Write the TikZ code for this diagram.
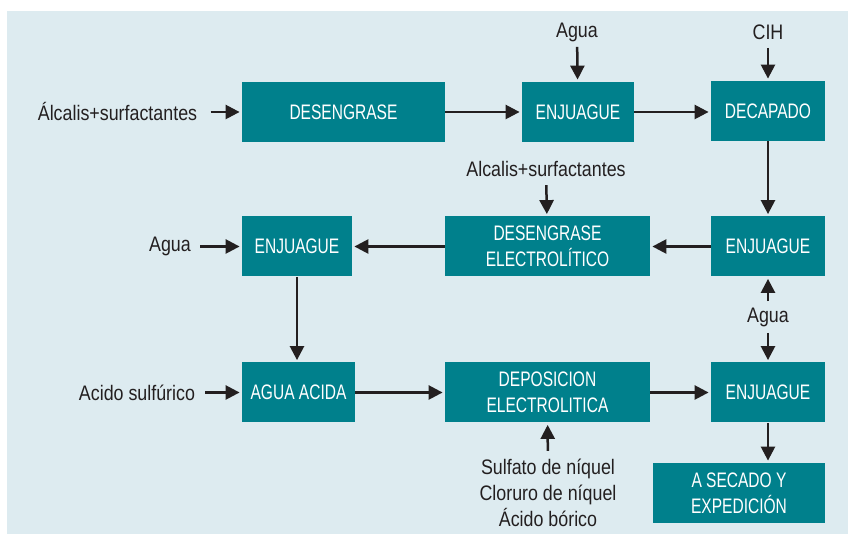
\documentclass[tikz,border=0pt]{standalone}
\usepackage{fontspec}
\setmainfont{Liberation Sans}[FakeStretch=0.85]
\newfontfamily\boxfont{Liberation Sans}[FakeStretch=0.74]
\usetikzlibrary{arrows.meta}

\definecolor{tealbox}{HTML}{00808C}
\definecolor{panel}{HTML}{DDEBF0}
\definecolor{ink}{HTML}{231F20}

\tikzset{
  stage/.style={fill=tealbox, text=white, inner sep=0pt, align=center,
    minimum height=30pt, font=\boxfont\fontsize{10.5}{12.8}\selectfont},
  feed/.style={text=ink, inner sep=1pt, align=center,
    font=\fontsize{10.5}{13}\selectfont},
  flow/.style={draw=ink, line width=1.25pt, shorten >=1pt,
    -{Triangle[length=7pt,width=7pt]}},
}

\begin{document}
\begin{tikzpicture}[x=0.5pt,y=-0.5pt]

  \useasboundingbox (0,0) rectangle (848,534);
  \fill[panel] (7,11) rectangle (848,534);

  % process stages
  \node[stage, minimum width=101.5pt] (desengrase) at (343.5,112) {DESENGRASE};
  \node[stage, minimum width=56pt] (enjuagueA) at (578,112) {ENJUAGUE};
  \node[stage, minimum width=57pt] (decapado) at (768,111) {DECAPADO};
  \node[stage, minimum width=57pt] (enjuagueB) at (768,246.5) {ENJUAGUE};
  \node[stage, minimum width=102.5pt] (electro) at (547.5,246.5) {DESENGRASE\\ELECTROL\'ITICO};
  \node[stage, minimum width=55pt] (enjuagueC) at (297,246.5) {ENJUAGUE};
  \node[stage, minimum width=56.5pt] (acida) at (298.5,392.5) {AGUA ACIDA};
  \node[stage, minimum width=102.5pt] (deposicion) at (547.5,392.5) {DEPOSICION\\ELECTROLITICA};
  \node[stage, minimum width=57pt] (enjuagueD) at (768,392.5) {ENJUAGUE};
  \node[stage, minimum width=86pt] (secado) at (739,493) {A SECADO Y\\EXPEDICI\'ON};

  % inputs
  \node[feed] (alcalisA) at (117.5,112) {\'Alcalis+surfactantes};
  \node[feed] (aguaA) at (577,32) {Agua};
  \node[feed] (cih) at (768,32) {CIH};
  \node[feed] (alcalisB) at (546,169) {Alcalis+surfactantes};
  \node[feed] (aguaB) at (170,246.5) {Agua};
  \node[feed] (aguaC) at (768,317) {Agua};
  \node[feed] (sulfurico) at (137,392.5) {Acido sulf\'urico};
  \node[feed] (sales) at (548,493) {Sulfato de n\'iquel\\Cloruro de n\'iquel\\\'Acido b\'orico};

  % main line
  \draw[flow] (desengrase) -- (enjuagueA);
  \draw[flow] (enjuagueA) -- (enjuagueA -| decapado.west);
  \draw[flow] (decapado) -- (enjuagueB);
  \draw[flow] (enjuagueB) -- (electro);
  \draw[flow] (electro) -- (enjuagueC);
  \draw[flow] (enjuagueC) -- (enjuagueC |- acida.north);
  \draw[flow] (acida) -- (deposicion);
  \draw[flow] (deposicion) -- (enjuagueD);
  \draw[flow] (enjuagueD) -- (enjuagueD |- secado.north);

  % feeds into the line
  \draw[flow, shorten <=5.5pt] (alcalisA) -- (desengrase);
  \draw[flow, shorten <=1.5pt] (aguaA) -- (enjuagueA);
  \draw[flow, shorten <=3pt] (cih) -- (decapado);
  \draw[flow, shorten <=3pt] (alcalisB) -- (electro);
  \draw[flow, shorten <=3.5pt] (aguaB) -- (enjuagueC);
  \draw[flow, shorten <=4pt] (sulfurico) -- (acida);
  \draw[flow, shorten <=2pt] (aguaC) -- (enjuagueB);
  \draw[flow, shorten <=2pt] (aguaC) -- (enjuagueD);
  \draw[flow, shorten <=3pt] (sales) -- (deposicion);

\end{tikzpicture}
\end{document}
